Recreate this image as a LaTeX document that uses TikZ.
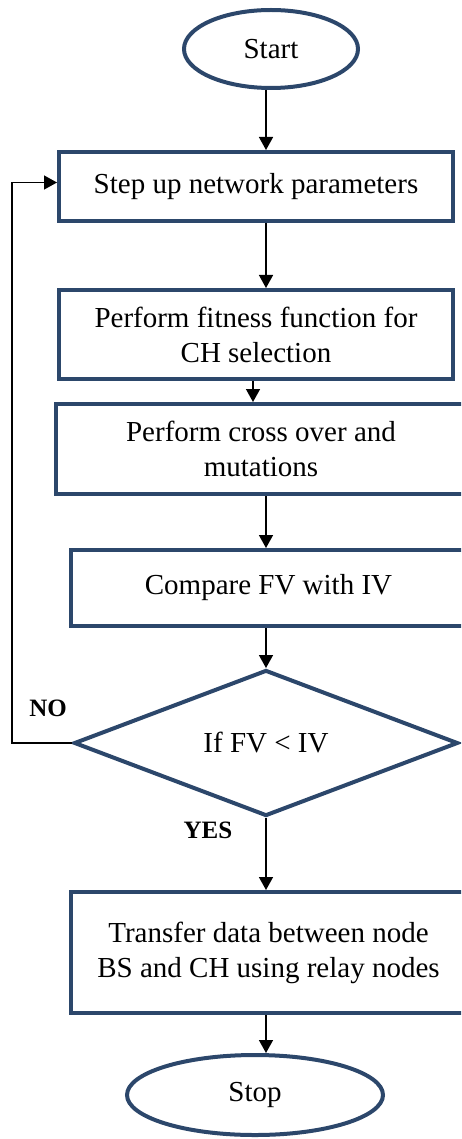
\documentclass[tikz,border=0pt]{standalone}
\usepackage{fontspec}
\setmainfont{Liberation Serif}
\usetikzlibrary{shapes.geometric, arrows.meta, positioning}
\definecolor{boxnavy}{RGB}{44,71,107}

\begin{document}
\begin{tikzpicture}[
    x=1pt, y=-1pt,
    txt/.style={font=\fontsize{29pt}{35pt}\selectfont},
    box/.style={rectangle, draw=boxnavy, line width=4pt, align=center,
                txt, inner sep=0pt},
    term/.style={ellipse, draw=boxnavy, line width=4pt, txt, inner sep=0pt},
    decision/.style={diamond, draw=boxnavy, line width=4pt, txt,
                     inner sep=0pt},
    flow/.style={-{Triangle[length=13pt,width=14pt]}, line width=1.5pt},
    loopline/.style={flow, line width=1.3pt},
    lbl/.style={font=\fontsize{25pt}{30pt}\selectfont\bfseries},
]
\useasboundingbox (0,0) rectangle (461,1139);
\clip (0,0) rectangle (461,1139);

\node[term, minimum width=174pt, minimum height=78pt] (start) at (271,49) {Start};

\node[box, minimum width=394pt, minimum height=69pt] (setup) at (256,186.5)
     {Step up network parameters};

\node[box, minimum width=394pt, minimum height=89pt] (fitness) at (256,334.5)
     {Perform fitness function for\\CH selection};

\node[box, minimum width=410pt, minimum height=90pt] (cross) at (261,449)
     {Perform cross over and\\mutations};

\node[box, minimum width=395pt, minimum height=76pt] (compare) at (268.5,588)
     {Compare FV with IV};

\node[decision, minimum width=384pt, minimum height=146pt] (dec) at (266,743)
     {If FV < IV};

\node[box, minimum width=395pt, minimum height=121pt] (transfer) at (268.5,952.5)
     {Transfer data between node\\BS and CH using relay nodes};

\node[term, minimum width=256pt, minimum height=80pt] (stop) at (255,1095) {Stop};

\coordinate (axis) at (266,0);

\draw[flow] (axis |- start.south) -- (axis |- setup.north);
\draw[flow] (axis |- setup.south) -- (axis |- fitness.north);
\draw[flow] ([xshift=-3pt]fitness.south) -- ([xshift=-3pt]fitness.south |- cross.north);
\draw[flow] (axis |- cross.south) -- (axis |- compare.north);
\draw[flow] (compare.south -| dec.north) -- (dec.north);
\draw[flow] (dec.south) -- (dec.south |- transfer.north);
\draw[flow] (axis |- transfer.south) -- (axis |- stop.north);
% back to the set-up step when the test fails
\draw[loopline] (dec.west) -- ++(-60,0) |- ([yshift=4pt]setup.west);

\node[lbl] (no) at (48,708) {NO};
\node[lbl] (yes) at (208,830) {YES};

\end{tikzpicture}
\end{document}
